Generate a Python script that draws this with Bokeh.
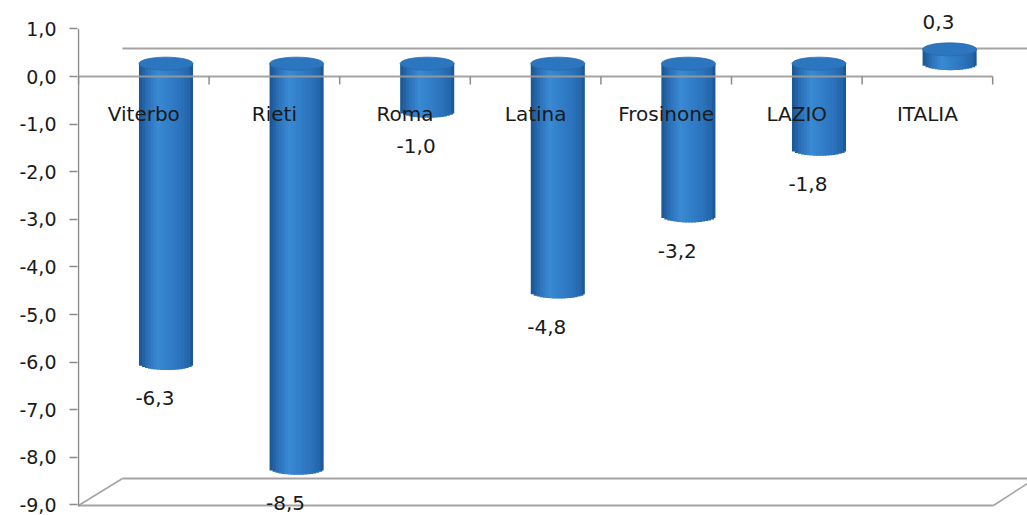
import math
from bokeh.plotting import figure
from bokeh.models import Range1d, FixedTicker, ColumnDataSource
from bokeh.embed import file_html
from bokeh.resources import INLINE
from bokeh.core.properties import value

# ---------------- data ----------------
categories = ["Viterbo", "Rieti", "Roma", "Latina", "Frosinone", "LAZIO", "ITALIA"]
values = [-6.3, -8.5, -1.0, -4.8, -3.2, -1.8, 0.3]
value_labels = ["-6,3", "-8,5", "-1,0", "-4,8", "-3,2", "-1,8", "0,3"]
y_ticks = [1, 0, -1, -2, -3, -4, -5, -6, -7, -8, -9]
y_tick_labels = ["1,0", "0,0", "-1,0", "-2,0", "-3,0", "-4,0", "-5,0",
                 "-6,0", "-7,0", "-8,0", "-9,0"]

# ---------------- geometry (screen scale) ----------------
PX_X = 130.6   # px per category
PX_Y = 47.6    # px per unit
FONT = "DejaVu Sans"
FS_TICK = "19px"
FS = "20px"

p = figure(width=1027, height=515, output_backend="svg", toolbar_location=None,
           x_range=Range1d(-1 / PX_X, (1027 - 78) / PX_X),
           y_range=Range1d((76 - 515) / PX_Y, 76 / PX_Y),
           x_axis_location=None, min_border_left=77, min_border_right=0,
           min_border_top=0, min_border_bottom=0)
p.outline_line_color = None
p.xgrid.visible = False
p.ygrid.visible = False
p.background_fill_color = "white"
p.border_fill_color = "white"

ax = p.yaxis[0]
ax.ticker = FixedTicker(ticks=y_ticks)
ax.major_label_overrides = {t: l for t, l in zip(y_ticks, y_tick_labels)}
ax.axis_line_color = None
ax.major_tick_out = 8
ax.major_tick_in = 0
ax.major_tick_line_color = "#8c8c8c"
ax.major_tick_line_width = 1.5
ax.minor_tick_line_color = None
ax.major_label_standoff = 13
ax.major_label_text_font = FONT
ax.major_label_text_font_size = FS_TICK
ax.major_label_text_color = "#1a1a1a"

n = len(categories)
grey = "#a3a3a3"
back_dx = 44 / PX_X
top_back = (76 - 48) / PX_Y
floor_back = (76 - 478) / PX_Y
floor_front = (76 - 505) / PX_Y
right_front = (993 - 78) / PX_X
xr_end = (1027 - 78) / PX_X

# back wall top line and floor
p.segment(x0=[back_dx], y0=[top_back], x1=[xr_end], y1=[top_back], line_color=grey, line_width=2)
p.segment(x0=[back_dx], y0=[floor_back], x1=[xr_end], y1=[floor_back], line_color=grey, line_width=2)
p.segment(x0=[0], y0=[floor_front], x1=[right_front], y1=[floor_front], line_color=grey, line_width=2)
p.segment(x0=[0], y0=[floor_front], x1=[back_dx], y1=[floor_back], line_color=grey, line_width=1.5)
p.segment(x0=[right_front], y0=[floor_front], x1=[right_front + 34 / PX_X], y1=[floor_front + 22 / PX_Y],
          line_color=grey, line_width=1.5)

# ---------------- cylinders ----------------
DX = 0.17          # depth offset (category units)
Z0 = 0.27          # depth offset (value units)
W = 0.414          # bar width
EH = 13            # ellipse height px
stops = [(-1.0, (0x1b, 0x54, 0x90)), (-0.7, (0x2a, 0x6f, 0xb6)), (-0.3, (0x3a, 0x8a, 0xd4)),
         (0.0, (0x34, 0x82, 0xcc)), (0.5, (0x2c, 0x74, 0xbd)), (0.85, (0x23, 0x66, 0xaa)),
         (1.0, (0x1a, 0x52, 0x90))]


def grad(u):
    for (a, ca), (b, cb) in zip(stops[:-1], stops[1:]):
        if a <= u <= b:
            t = (u - a) / (b - a)
            c = [round(ca[k] + (cb[k] - ca[k]) * t) for k in range(3)]
            return "#%02x%02x%02x" % tuple(c)
    return "#%02x%02x%02x" % stops[-1][1]


NS = 18
L, R, T, B, C = [], [], [], [], []
ex, ey = [], []
for i, v in enumerate(values):
    cx = i + 0.5 + DX
    top = max(Z0, v + Z0)
    bot = min(Z0, v + Z0)
    ex.append(cx)
    ey.append(top)
    for j in range(NS):
        u0 = -1 + 2 * j / NS
        u1 = -1 + 2 * (j + 1) / NS
        um = (u0 + u1) / 2
        L.append(cx + u0 * W / 2)
        R.append(cx + u1 * W / 2 + (0.012 if j < NS - 1 else 0))
        T.append(top)
        B.append(bot - (EH / 2 / PX_Y) * math.sqrt(max(0.0, 1 - um * um)))
        C.append(grad(um))

p.quad(left=L, right=R, top=T, bottom=B, fill_color=C, line_color=None)
p.ellipse(x=ex, y=ey, width=W, height=EH, height_units="screen",
          fill_color="#2c76c0", line_color="#2868a8", line_width=0.8)

# zero axis line with category ticks
p.segment(x0=[0], y0=[0], x1=[n], y1=[0], line_color="#9a9a9a", line_width=2, line_alpha=0.9)
tx = list(range(n + 1))
p.segment(x0=tx, y0=[0] * (n + 1), x1=tx, y1=[-8 / PX_Y] * (n + 1), line_color="#8c8c8c", line_width=1.5)
# value axis line
p.segment(x0=[0], y0=[1.0], x1=[0], y1=[floor_front - 1 / PX_Y], line_color="#8c8c8c", line_width=1.5)

# category labels
p.text(x=[i + 0.5 for i in range(n)], y=[-0.78] * n, text=categories,
       text_font=value(FONT), text_font_size=FS, text_color="#1a1a1a",
       text_align="center", text_baseline="middle")

# value labels
lx = [i + 0.5 + 0.085 for i in range(n)]
ly = [v for v in values]
loff = [22 if v < 0 else -40 for v in values]
src = ColumnDataSource(dict(x=lx, y=ly, t=value_labels, yo=loff))
p.text(x="x", y="y", text="t", y_offset="yo", source=src,
       text_font=value(FONT), text_font_size=FS, text_color="#1a1a1a",
       text_align="center", text_baseline="middle")

open("out.html", "w").write(file_html(p, INLINE))
